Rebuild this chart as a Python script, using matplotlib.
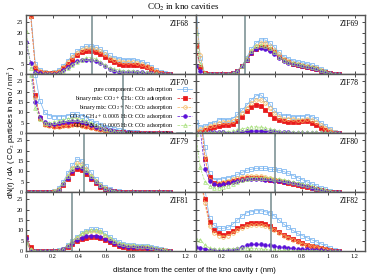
import numpy as np
import matplotlib
matplotlib.use("Agg")
import matplotlib.pyplot as plt

# bin centres along r (nm)
r = np.arange(32) * 0.035

names = ["ZIF68", "ZIF69", "ZIF70", "ZIF78", "ZIF79", "ZIF80", "ZIF81", "ZIF82"]
pore_radius = [0.5, 0.375, 0.73, 0.33, 0.435, 0.6, 0.35, 0.57]

labels = ["pure component: CO$_2$ adsorption",
          "binary mix: CO$_2$ + CH$_4$: CO$_2$ adsorption",
          "binary mix: CO$_2$ + N$_2$: CO$_2$ adsorption",
          "CO$_2$ + CH$_4$ + 0.0005 H$_2$O: CO$_2$ adsorption",
          "CO$_2$ + N$_2$ + 0.0005 H$_2$O: CO$_2$ adsorption"]

zif68_pure = [40, 30, 5, 2, 1, 0.7, 1, 2, 4, 6.5, 9, 11, 12.5, 13.5, 13.5, 13, 12, 10.5, 9, 8, 7.5, 7, 7, 7, 6.5, 6, 5, 3.5, 2, 1, 0.3, 0]
zif68_ch4 = [40, 28, 3, 1, 0.5, 0.3, 0.5, 1, 3, 5, 7, 9, 10.5, 11, 11, 10.5, 9.5, 8.5, 7, 6, 5, 4.5, 4.5, 4.5, 4.5, 4, 3.5, 2.5, 1, 0.5, 0, 0]
zif68_n2 = [40, 28, 4, 1.5, 0.8, 0.5, 0.8, 1.5, 3.5, 6, 8.5, 10, 11.5, 12.5, 12.5, 12, 11, 9.5, 8, 7, 6.5, 6, 6, 6, 5.5, 5, 4, 3, 1.5, 0.7, 0.2, 0]
zif68_ch4w = [15.5, 5.5, 1, 0.3, 0, 0, 0.2, 0.5, 2, 3.5, 5, 6.5, 7, 7, 7, 6.5, 5.5, 4, 2.5, 1.5, 1, 1, 1, 1, 1, 0.8, 0.5, 0.3, 0, 0, 0, 0]
zif68_n2w = [21, 3, 0.5, 0, 0, 0, 0, 0.3, 1.5, 3, 4.5, 6, 7, 8, 8, 7.5, 6, 4.5, 3, 2.5, 2, 1.5, 1.5, 1.5, 1.2, 1, 0.8, 0.5, 0.3, 0, 0, 0]

zif69_pure = [35, 8, 0, 0, 0, 0, 0, 0, 0.3, 1.5, 4, 8, 12, 15, 16.5, 16.5, 15, 13, 10.5, 8.5, 7.5, 6.5, 6, 5.5, 5, 4.5, 3.5, 2.5, 1.5, 0.7, 0.2, 0]
zif69_ch4 = [13.5, 3.5, 0.3, 0, 0, 0, 0, 0, 0.3, 1.5, 4, 7, 10, 12, 13, 13, 12, 10.5, 8.5, 7, 6, 5, 4.5, 4, 3.5, 3, 2.5, 1.5, 1, 0.5, 0, 0]
zif69_n2 = [30, 9, 0, 0, 0, 0, 0, 0, 0.3, 1.5, 4, 7.5, 11, 13.5, 15, 15, 13.5, 11.5, 9.5, 7.5, 6.5, 5.5, 5, 4.5, 4, 3.5, 3, 2, 1, 0.5, 0, 0]
zif69_ch4w = [4, 1.5, 0, 0, 0, 0, 0, 0, 0.3, 1.5, 4, 7, 10, 12, 12.5, 12, 11, 9.5, 8, 6.5, 5.5, 5, 4.5, 4, 3.5, 3, 2.5, 1.5, 1, 0.5, 0, 0]
zif69_n2w = [20, 5, 0.5, 0, 0, 0, 0, 0, 0.3, 1.5, 4, 7.5, 11, 13.5, 14, 13.5, 12.5, 10.5, 8.5, 7, 6, 5.5, 5, 4.5, 4, 3.5, 3, 2, 1.5, 0.5, 0, 0]

zif70_pure = [40, 35, 28, 15.5, 10, 8.5, 8, 8, 8, 8.5, 9, 9, 8.5, 7.5, 6, 5, 4, 3, 2.5, 2, 1.5, 1, 0.7, 0.5, 0.3, 0.2, 0, 0, 0, 0, 0, 0]
zif70_ch4 = [40, 35, 18.5, 7.5, 4.5, 4, 3.5, 3.5, 4, 4, 4.5, 4.5, 4, 3.5, 3, 2.5, 2, 1.5, 1, 0.7, 0.5, 0.3, 0.2, 0, 0, 0, 0, 0, 0, 0, 0, 0]
zif70_n2 = [40, 35, 17, 7, 4, 3.5, 3, 3, 3.5, 3.5, 4, 4, 3.5, 3, 2.5, 2, 1.5, 1, 0.7, 0.5, 0.3, 0.2, 0, 0, 0, 0, 0, 0, 0, 0, 0, 0]
zif70_ch4w = [40, 32, 15, 8, 5.5, 4.5, 4.5, 5, 5.5, 5.5, 6, 6, 5.5, 5, 4, 3, 2.5, 2, 1.5, 1, 0.7, 0.5, 0.3, 0, 0, 0, 0, 0, 0, 0, 0, 0]
zif70_n2w = [40, 28, 12, 7, 5, 5, 5.5, 6, 6.5, 7, 7, 7, 6.5, 6, 5, 4, 3, 2, 1.5, 1, 0.7, 0.5, 0.3, 0, 0, 0, 0, 0, 0, 0, 0, 0]

zif78_pure = [5.5, 3, 3.5, 4.5, 5, 6.5, 6.5, 6.5, 7, 9, 11, 13.5, 16, 18, 18.5, 16.5, 14, 11, 9, 8.5, 8.5, 8, 8, 8, 8.5, 8, 7, 5, 3.5, 2, 0.7, 0]
zif78_ch4 = [0, 0.5, 1.5, 2.5, 3, 3.5, 4, 4, 4.5, 6, 8, 10.5, 12.5, 13.5, 13, 11, 9, 7.5, 6.5, 6, 5.5, 5.5, 5.5, 6, 6, 5, 4, 2.5, 1.5, 0.5, 0, 0]
zif78_n2 = [1, 2, 2.5, 3.5, 4, 5, 5.5, 5.5, 6, 7.5, 9.5, 12, 14.5, 16, 16, 14.5, 12, 9.5, 8, 7, 7, 7, 6.5, 6.5, 7, 6.5, 5.5, 4, 2.5, 1.5, 0.5, 0]
zif78_ch4w = [0, 0, 0.2, 0.3, 0.5, 0.5, 0.3, 0.2, 0.2, 0.3, 0.5, 0.8, 1, 1, 1, 0.8, 0.8, 0.8, 0.7, 0.5, 0.3, 0.2, 0.2, 0.1, 0, 0, 0, 0, 0, 0, 0, 0]
zif78_n2w = [0.3, 0.3, 0.3, 0.3, 0.3, 0.5, 0.5, 0.7, 1, 1.5, 2, 2.5, 3, 3, 2.8, 2.5, 2, 1.5, 1, 0.7, 0.5, 0.5, 0.3, 0.3, 0.3, 0.3, 0.3, 0.3, 0.3, 0.3, 0.2, 0]

zif79_pure = [0, 0, 0, 0, 0, 0, 0.5, 2, 5, 9, 13, 16, 15, 12.5, 9.5, 6.5, 4, 2.5, 1.5, 0.7, 0.3, 0, 0, 0, 0, 0, 0, 0, 0, 0, 0, 0]
zif79_ch4 = [0, 0, 0, 0, 0, 0, 0, 1, 3.5, 6.5, 9, 11, 10.5, 8.5, 6.5, 4.5, 2.5, 1.5, 0.7, 0.3, 0, 0, 0, 0, 0, 0, 0, 0, 0, 0, 0, 0]
zif79_n2 = [0, 0, 0, 0, 0, 0, 0.3, 1.5, 4, 8, 11.5, 14, 13.5, 11, 8, 5.5, 3.5, 2, 1, 0.5, 0.2, 0, 0, 0, 0, 0, 0, 0, 0, 0, 0, 0]
zif79_ch4w = [0, 0, 0, 0, 0, 0, 0, 1, 4, 7, 10, 12, 11.5, 9.5, 7, 5, 3, 1.5, 0.8, 0.3, 0, 0, 0, 0, 0, 0, 0, 0, 0, 0, 0, 0]
zif79_n2w = [0, 0, 0, 0, 0, 0, 0.3, 1.5, 4.5, 8, 11, 13, 12.5, 10.5, 8, 5.5, 3.5, 2, 1, 0.5, 0.2, 0, 0, 0, 0, 0, 0, 0, 0, 0, 0, 0]

zif80_pure = [40, 40, 22, 9, 6, 6, 6.5, 7, 7.5, 8.5, 9.5, 10.5, 11, 11.5, 11.5, 11.5, 11, 11, 10.5, 10, 9, 8, 7, 6, 5, 4, 3, 2, 1.5, 0.7, 0.2, 0]
zif80_ch4 = [40, 40, 16, 7.5, 4.5, 4, 4.5, 5, 5.5, 6, 6.5, 7, 7, 7, 7, 6.5, 6, 6, 5.5, 5, 4.5, 4, 3.5, 3, 2.5, 2, 1.5, 1, 0.5, 0.2, 0, 0]
zif80_n2 = [40, 40, 17, 6, 4, 4.5, 5, 5.5, 6.5, 7, 7.5, 8, 8, 8, 8, 7.5, 7, 6.5, 6, 5.5, 5, 4.5, 4, 3.5, 3, 2, 1.5, 1, 0.5, 0, 0, 0]
zif80_ch4w = [40, 30, 11, 5.5, 4, 3.5, 4, 4.5, 5, 5.5, 6, 6.5, 6.5, 6.5, 6.5, 6, 6, 5.5, 5.5, 5, 5, 4.5, 4, 3.5, 3, 2, 1.5, 1, 0.5, 0, 0, 0]
zif80_n2w = [28, 12, 5, 3, 2, 2, 2.5, 3, 4, 5, 6, 6.5, 7, 7, 7, 7, 7, 6.5, 6.5, 6, 5.5, 5, 4.5, 4, 3.5, 3, 2, 1.5, 1, 0.5, 0, 0]

zif81_pure = [5, 0.5, 0, 0, 0, 0, 0, 0.3, 1, 3, 5, 7, 8.5, 9.5, 10.5, 10.5, 10, 8.5, 7, 5.5, 4.5, 3.5, 3, 3, 2.5, 2.5, 2.5, 2, 1.5, 1, 0.5, 0.2]
zif81_ch4 = [7, 2, 0, 0, 0, 0, 0, 0.2, 0.7, 2, 3.5, 5, 6, 6.5, 7, 7, 6.5, 5.5, 4.5, 3.5, 2.5, 2, 1.5, 1.5, 1.5, 1.5, 1.5, 1, 0.7, 0.5, 0.2, 0]
zif81_n2 = [4, 0.5, 0, 0, 0, 0, 0, 0.2, 1, 2.5, 4.5, 6.5, 8, 9, 9.5, 9.5, 9, 7.5, 6, 4.5, 3.5, 3, 2.5, 2.5, 2, 2, 2, 1.5, 1, 0.5, 0.3, 0]
zif81_ch4w = [6.5, 0, 0, 0, 0, 0, 0, 0.2, 0.8, 2.5, 4, 5.5, 6.5, 7.5, 7.5, 7.5, 7, 6, 5, 4, 3, 2.5, 2, 2, 2, 2, 1.5, 1.5, 1, 0.5, 0.2, 0]
zif81_n2w = [4.5, 1, 0, 0, 0, 0, 0, 0.3, 1, 3, 5, 7, 8.5, 9.5, 10, 10, 9.5, 8, 6.5, 5, 4, 3.5, 3, 3, 2.5, 2.5, 2.5, 2, 1.5, 1, 0.5, 0.2]

zif82_pure = [40, 40, 30, 16, 12.5, 11, 11, 11.5, 13, 15, 17, 18.5, 19, 19.5, 19.5, 19, 18.5, 17, 15, 13, 11.5, 10, 8.5, 7.5, 6.5, 5.5, 4.5, 3.5, 2.5, 1.5, 0.5, 0]
zif82_ch4 = [40, 35, 25, 14, 10, 8.5, 8, 8.5, 9.5, 11, 12, 13, 13.5, 13.5, 13.5, 13, 12, 10.5, 9, 8, 7, 6, 5, 4, 3, 2.5, 2, 1.5, 1, 0.5, 0.2, 0]
zif82_n2 = [40, 35, 23, 12, 8.5, 7.5, 7, 7.5, 8.5, 10, 11, 12, 12.5, 12.5, 12.5, 12, 11, 10, 8.5, 7.5, 6.5, 5.5, 4.5, 3.5, 3, 2.5, 2, 1.5, 1, 0.5, 0.2, 0]
zif82_ch4w = [2, 1.5, 1, 0.5, 0.3, 0.2, 0.2, 0.3, 0.5, 1, 2, 2.8, 3.2, 3.2, 3.2, 3, 2.8, 2.3, 2, 1.8, 1.5, 1.3, 1, 1, 0.8, 0.6, 0.5, 0.3, 0.2, 0, 0, 0]
zif82_n2w = [6, 5.5, 3, 1.5, 1, 1, 1, 1, 1.2, 1.3, 1.5, 1.5, 1.3, 1.2, 1, 0.8, 0.6, 0.5, 0.4, 0.3, 0.3, 0.2, 0.2, 0.2, 0.2, 0.2, 0.2, 0.1, 0, 0, 0, 0]

panels = [
    [zif68_pure, zif68_ch4, zif68_n2, zif68_ch4w, zif68_n2w],
    [zif69_pure, zif69_ch4, zif69_n2, zif69_ch4w, zif69_n2w],
    [zif70_pure, zif70_ch4, zif70_n2, zif70_ch4w, zif70_n2w],
    [zif78_pure, zif78_ch4, zif78_n2, zif78_ch4w, zif78_n2w],
    [zif79_pure, zif79_ch4, zif79_n2, zif79_ch4w, zif79_n2w],
    [zif80_pure, zif80_ch4, zif80_n2, zif80_ch4w, zif80_n2w],
    [zif81_pure, zif81_ch4, zif81_n2, zif81_ch4w, zif81_n2w],
    [zif82_pure, zif82_ch4, zif82_n2, zif82_ch4w, zif82_n2w],
]

# style of each series (colour, marker, filled, linestyle)
styles = [
    ("#78b4f0", "s", False, "-"),
    ("#e8191a", "s", True, "--"),
    ("#f4b860", "o", False, "--"),
    ("#5a10d8", "o", True, "--"),
    ("#a6e07a", "^", False, "--"),
]
line_col = "#7f9396"

serif = "Liberation Serif"
plt.rcParams["mathtext.fontset"] = "stix"

fig, axes = plt.subplots(4, 2, figsize=(3.67, 2.75), dpi=100, sharex=True, sharey=True,
                         gridspec_kw=dict(hspace=0, wspace=0))
fig.subplots_adjust(left=0.071, right=0.995, top=0.945, bottom=0.087)

for k, ax in enumerate(axes.flatten()):
    data = panels[k]
    for (col, mk, filled, ls), y, lab in zip(styles, data, labels):
        ax.plot(r, y, color=col, ls=ls, lw=0.5, marker=mk, ms=2.6,
                mfc=col if filled else "none", mec=col, mew=0.55, label=lab)
    ax.axvline(pore_radius[k], color=line_col, lw=1.2, label="effective pore radius")
    ax.text(0.96, 0.92, names[k], transform=ax.transAxes, ha="right", va="top",
            fontsize=5.5, family=serif)
    ax.set_xlim(0, 1.28)
    ax.set_ylim(0, 28.5)
    ax.set_xticks([0, 0.2, 0.4, 0.6, 0.8, 1.0, 1.2])
    ax.set_xticklabels(["0", "0.2", "0.4", "0.6", "0.8", "1", "1.2"])
    ax.set_yticks([0, 5, 10, 15, 20, 25])
    ax.tick_params(direction="in", length=2, width=0.5, labelsize=4.5,
                   top=True, right=True, pad=2)
    for lbl in ax.get_xticklabels() + ax.get_yticklabels():
        lbl.set_family(serif)
    for s in ax.spines.values():
        s.set_linewidth(1.0)
        s.set_color("#555555")

leg = axes[1, 0].legend(loc="upper right", bbox_to_anchor=(1.0, 0.88), frameon=False,
                        markerfirst=False, handlelength=2.6,
                        labelspacing=0.02, borderpad=0.1, handletextpad=0.6,
                        prop={"family": serif, "size": 4.2})

fig.suptitle("CO$_2$ in kno cavities", y=0.995, fontsize=6.5, family=serif)
fig.text(0.53, 0.005, "distance from the center of the kno cavity r (nm)",
         ha="center", va="bottom", fontsize=5.5, family="Liberation Sans")
fig.text(0.012, 0.52, "dN(r) / dA ( CO$_2$ particles in kno / nm$^2$ )",
         ha="left", va="center", rotation=90, fontsize=5.5, family="Liberation Sans")

fig.savefig("out.png", dpi=100)
